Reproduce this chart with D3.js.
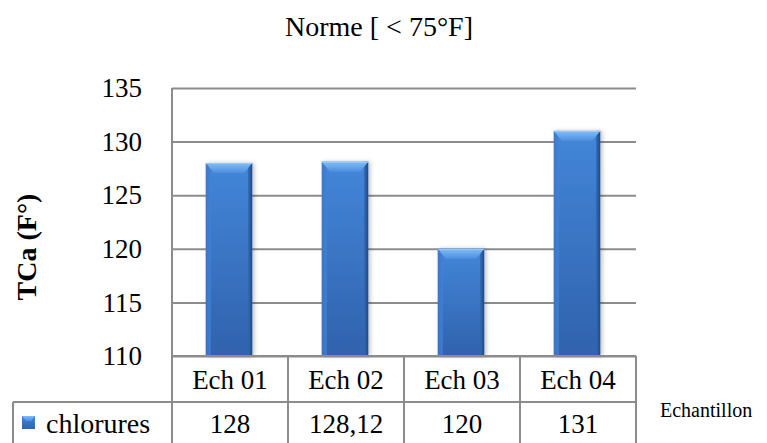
<!DOCTYPE html>
<html>
<head>
<meta charset="utf-8">
<script src="https://cdn.jsdelivr.net/npm/d3@7"></script>
<style>
  html, body { margin: 0; padding: 0; background: #fff; }
  svg { display: block; }
  svg text { font-family: "Liberation Serif", Tinos, "Times New Roman", Times, "DejaVu Serif", serif; fill: #000; }
</style>
</head>
<body>
<svg id="chart" width="767" height="443"></svg>
<script>
// Data
const categories = ["Ech 01", "Ech 02", "Ech 03", "Ech 04"];
const values = [128, 128.12, 120, 131];
const valueLabels = ["128", "128,12", "120", "131"];
const seriesName = "chlorures";
const yTicks = [110, 115, 120, 125, 130, 135];
const title = "Norme [ < 75°F]";
const yTitle = "TCa (F°)";
const xTitle = "Echantillon";

const svg = d3.select("#chart");
const serif = "'Liberation Serif', Tinos, 'Times New Roman', Times, 'DejaVu Serif', serif";

const plot = { left: 172, right: 636, top: 88, bottom: 356 };
const table = { legendLeft: 13, row1: 356, row2: 402, bottom: 450 };
const gridColor = "#8c8c8c";

// Scales
const x = d3.scaleBand().domain(categories).range([plot.left, plot.right]).padding(0);
const y = d3.scaleLinear().domain([110, 135]).range([plot.bottom, plot.top]);

// Gradients for the bevelled bars
const defs = svg.append("defs");
const face = defs.append("linearGradient").attr("id", "face").attr("x1", 0).attr("x2", 0).attr("y1", 0).attr("y2", 1);
face.append("stop").attr("offset", "0%").attr("stop-color", "#4386d9");
face.append("stop").attr("offset", "100%").attr("stop-color", "#3062ad");
const sideR = defs.append("linearGradient").attr("id", "sideR").attr("x1", 0).attr("x2", 1);
sideR.append("stop").attr("offset", "0%").attr("stop-color", "#3468b3");
sideR.append("stop").attr("offset", "100%").attr("stop-color", "#1d4a8a");
const sideL = defs.append("linearGradient").attr("id", "sideL").attr("x1", 0).attr("x2", 1);
sideL.append("stop").attr("offset", "0%").attr("stop-color", "#3a76c6");
sideL.append("stop").attr("offset", "100%").attr("stop-color", "#4183d6");
const bevel = defs.append("linearGradient").attr("id", "bevel").attr("x1", 0).attr("x2", 0).attr("y1", 0).attr("y2", 1);
bevel.append("stop").attr("offset", "0%").attr("stop-color", "#80bdf7");
bevel.append("stop").attr("offset", "100%").attr("stop-color", "#4d8fe0");
const shadow = defs.append("filter").attr("id", "shadow").attr("x", "-20%").attr("y", "-10%").attr("width", "150%").attr("height", "130%");
shadow.append("feDropShadow").attr("dx", 2).attr("dy", 0).attr("stdDeviation", 2)
  .attr("flood-color", "#000").attr("flood-opacity", 0.25);

function txt(sel) { return sel.attr("font-family", serif).style("font-family", serif); }

// Title
txt(svg.append("text")).attr("x", (plot.left + plot.right) / 2 - 25).attr("y", 36)
  .attr("text-anchor", "middle").style("font-size", "28px").text(title);

// Gridlines + tick labels
const yAxis = d3.axisLeft(y).tickValues(yTicks).tickSizeInner(-(plot.right - plot.left)).tickSizeOuter(0).tickPadding(30);
const gy = svg.append("g").attr("transform", `translate(${plot.left},0)`).call(yAxis);
gy.attr("font-family", serif);
gy.select(".domain").remove();
gy.selectAll(".tick line").attr("stroke", gridColor).attr("stroke-width", 2);
txt(gy.selectAll(".tick text")).style("font-size", "27px").attr("fill", "#000");

// Y title
txt(svg.append("text")).attr("transform", `translate(36,247) rotate(-90)`)
  .attr("text-anchor", "middle").style("font-size", "28px").style("font-weight", "bold").text(yTitle);

// Bars
const barFrac = 0.4;
const bw = x.bandwidth() * barFrac;
const bars = svg.append("g").selectAll("g.bar").data(categories.map((c, i) => ({ c, v: values[i] })))
  .join("g").attr("class", "bar");
bars.each(function(d) {
  const g = d3.select(this);
  const x0 = x(d.c) + (x.bandwidth() - bw) / 2 - 1;
  const y0 = y(d.v), y1 = y(110);
  const h = y1 - y0;
  const s = 8, bt = 10;
  g.append("rect").attr("x", x0).attr("y", y0).attr("width", bw).attr("height", h)
    .attr("fill", "url(#face)").attr("filter", "url(#shadow)");
  g.append("rect").attr("x", x0).attr("y", y0).attr("width", 5).attr("height", h).attr("fill", "url(#sideL)").attr("opacity", 0.8);
  g.append("rect").attr("x", x0 + bw - 4).attr("y", y0).attr("width", 4).attr("height", h).attr("fill", "url(#sideR)");
  g.append("path")
    .attr("d", `M${x0},${y0} L${x0 + bw},${y0} L${x0 + bw - s},${y0 + bt} L${x0 + s},${y0 + bt} Z`)
    .attr("fill", "url(#bevel)");
  g.append("line").attr("x1", x0).attr("x2", x0 + bw).attr("y1", y0 + 0.5).attr("y2", y0 + 0.5)
    .attr("stroke", "#9ccaf7").attr("stroke-width", 1);
});

// Data table
const tl = svg.append("g").attr("stroke", gridColor).attr("stroke-width", 2).attr("fill", "none");
tl.append("line").attr("x1", plot.left).attr("x2", plot.left).attr("y1", plot.top).attr("y2", table.bottom);
tl.append("line").attr("x1", plot.left).attr("x2", plot.right).attr("y1", table.row1).attr("y2", table.row1);
tl.append("line").attr("x1", table.legendLeft).attr("x2", plot.right).attr("y1", table.row2).attr("y2", table.row2);
tl.append("line").attr("x1", table.legendLeft).attr("x2", table.legendLeft).attr("y1", table.row2).attr("y2", table.bottom);
categories.forEach(c => {
  const xr = x(c) + x.bandwidth();
  tl.append("line").attr("x1", xr).attr("x2", xr).attr("y1", table.row1).attr("y2", table.bottom);
});

txt(svg.append("g").selectAll("text").data(categories).join("text"))
  .attr("x", d => x(d) + x.bandwidth() / 2).attr("y", 389)
  .attr("text-anchor", "middle").style("font-size", "27px").text(d => d);
txt(svg.append("g").selectAll("text").data(valueLabels).join("text"))
  .attr("x", (d, i) => x(categories[i]) + x.bandwidth() / 2).attr("y", 433)
  .attr("text-anchor", "middle").style("font-size", "27px").text(d => d);

// Legend key
const kx = 22, ky = 416, ks = 13;
svg.append("rect").attr("x", kx).attr("y", ky).attr("width", ks).attr("height", ks).attr("fill", "url(#face)");
svg.append("path").attr("d", `M${kx},${ky} L${kx + ks},${ky} L${kx + ks - 4},${ky + 5} L${kx + 4},${ky + 5} Z`).attr("fill", "url(#bevel)");
txt(svg.append("text")).attr("x", 46).attr("y", 433).style("font-size", "28px").text(seriesName);

// X title
txt(svg.append("text")).attr("x", 660).attr("y", 417).style("font-size", "20px").text(xTitle);
</script>
</body>
</html>
